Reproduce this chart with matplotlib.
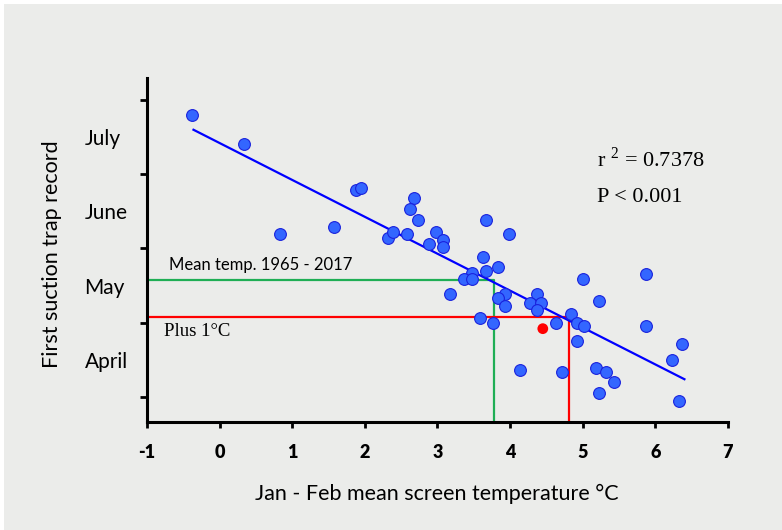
#!/usr/bin/env python3
"""First suction trap record against Jan - Feb mean screen temperature."""

import matplotlib
matplotlib.use("Agg")
import matplotlib.pyplot as plt
from matplotlib.patches import Rectangle
import numpy as np

# Jan - Feb mean screen temperature (deg C)
TEMP = [-0.38, 0.33, 0.83, 1.58, 1.88, 1.94, 2.67, 2.62, 2.73, 2.32,
        2.39, 2.58, 2.98, 2.88, 3.08, 3.08, 3.67, 3.98, 3.63, 3.83,
        3.67, 3.47, 3.36, 3.47, 3.17, 3.93, 3.83, 3.93, 4.37, 4.27,
        4.42, 4.37, 3.58, 3.76, 4.63, 4.84, 4.92, 5.02, 4.92, 5.00,
        5.23, 5.87, 5.87, 4.13, 4.72, 5.18, 5.32, 5.43, 5.23, 6.23,
        6.37, 6.33]
# first record, in month units (4 = mid April, 5 = mid May, ...)
RECORD = [7.30, 6.91, 5.69, 5.79, 6.29, 6.31, 6.18, 6.03, 5.88, 5.64,
          5.72, 5.69, 5.72, 5.56, 5.62, 5.52, 5.88, 5.69, 5.39, 5.25,
          5.19, 5.17, 5.09, 5.09, 4.89, 4.89, 4.83, 4.73, 4.89, 4.76,
          4.76, 4.67, 4.56, 4.49, 4.49, 4.62, 4.49, 4.46, 4.26, 5.09,
          4.79, 5.15, 4.46, 3.86, 3.83, 3.89, 3.83, 3.70, 3.56, 4.00,
          4.22, 3.44]

PROJ_TEMP = [4.45]
PROJ_RECORD = [4.42]

FIT_RANGE = [-0.36, 6.40]
FIT_INTERCEPT = 6.92
FIT_SLOPE = -0.497

# reading guides: temperature and the record it gives on the fit
MEAN_TEMP, MEAN_RECORD = 3.78, 5.07
PLUS_ONE_TEMP, PLUS_ONE_RECORD = 4.81, 4.58

MONTHS = ["April", "May", "June", "July"]
MONTH_POS = [4, 5, 6, 7]
XTICKS = list(range(-1, 8))

BG = "#ebecea"
YMIN, YMAX = 3.163, 7.796


def main():
    plt.rcParams["font.family"] = ["Lato", "DejaVu Sans"]
    plt.rcParams["mathtext.fontset"] = "custom"
    plt.rcParams["mathtext.rm"] = "Liberation Serif"

    fig = plt.figure(figsize=(7.82, 5.30), dpi=100, facecolor="white")
    fig.patches.append(Rectangle((4 / 782, 0), 1, 1 - 4 / 530,
                                 transform=fig.transFigure,
                                 facecolor=BG, edgecolor="none", zorder=-10))
    ax = fig.add_axes([147 / 782, 108 / 530, 581 / 782, 344 / 530])
    ax.set_facecolor("none")

    ax.set_xlim(-1, 7)
    ax.set_ylim(YMIN, YMAX)

    ax.plot([-1, MEAN_TEMP, MEAN_TEMP], [MEAN_RECORD, MEAN_RECORD, YMIN],
            color="#1fae55", lw=1.6, zorder=2)
    ax.plot([-1, PLUS_ONE_TEMP, PLUS_ONE_TEMP],
            [PLUS_ONE_RECORD, PLUS_ONE_RECORD, YMIN],
            color="#ff0000", lw=1.6, zorder=2)

    xs = np.array(FIT_RANGE)
    ax.plot(xs, FIT_INTERCEPT + FIT_SLOPE * xs, color="#0000ff", lw=1.6,
            zorder=3)

    ax.scatter(TEMP, RECORD, s=72, color="#3366ff", edgecolor="#1a22dd",
               linewidth=0.8, zorder=4)
    ax.scatter(PROJ_TEMP, PROJ_RECORD, s=60, color="#ff0000",
               edgecolor="none", zorder=5)

    for side in ["top", "right"]:
        ax.spines[side].set_visible(False)
    for side in ["left", "bottom"]:
        ax.spines[side].set_linewidth(2.2)

    ax.set_xticks(XTICKS, [str(t) for t in XTICKS])
    ax.tick_params(axis="x", length=4, width=2, pad=12, labelsize=13)
    for lab in ax.get_xticklabels():
        lab.set_fontweight("heavy")

    ax.set_yticks([3.5, 4.5, 5.5, 6.5, 7.5], [])
    ax.tick_params(axis="y", which="major", length=5, width=2)
    ax.set_yticks(MONTH_POS, MONTHS, minor=True)
    ax.tick_params(axis="y", which="minor", length=0, pad=45,
                   labelsize=15)
    for lab in ax.get_yticklabels(minor=True):
        lab.set_horizontalalignment("left")

    ax.set_xlabel("Jan - Feb mean screen temperature °C", fontsize=15.5,
                  va="center")
    ax.xaxis.set_label_coords(0.499, -0.208)
    ax.set_ylabel("First suction trap record", fontsize=15.5, va="center")
    ax.yaxis.set_label_coords(-0.164, 0.488)

    ax.text(-0.70, MEAN_RECORD + 0.10, "Mean temp. 1965 - 2017",
            fontsize=12, va="bottom", ha="left")
    ax.text(-0.77, PLUS_ONE_RECORD - 0.08, "Plus 1°C", fontsize=13.5,
            family="Liberation Serif", va="top", ha="left")

    ax.text(5.2, 6.60, r"r $^{2}$ = 0.7378", fontsize=16,
            family="Liberation Serif", va="baseline", ha="left")
    ax.text(5.2, 6.12, "P < 0.001", fontsize=16,
            family="Liberation Serif", va="baseline", ha="left")

    fig.savefig("out.png", dpi=100, facecolor=fig.get_facecolor())


if __name__ == "__main__":
    main()
